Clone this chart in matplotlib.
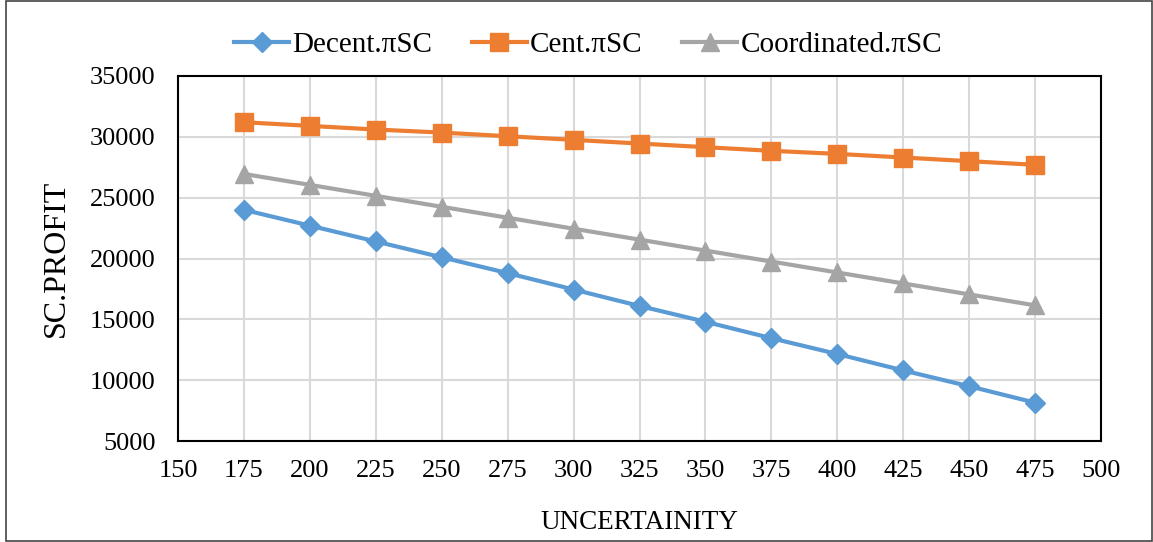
import numpy as np
import matplotlib.pyplot as plt
from matplotlib.patches import Rectangle

plt.rcParams['font.family'] = ['Liberation Serif', 'DejaVu Serif']

# Data
uncertainty = [175, 200, 225, 250, 275, 300, 325, 350, 375, 400, 425, 450, 475]
decent = [24000, 22700, 21400, 20100, 18800, 17450, 16100, 14800, 13450, 12150, 10800, 9500, 8150]
cent = [31200, 30900, 30600, 30350, 30050, 29750, 29450, 29150, 28850, 28600, 28300, 28000, 27700]
coord = [26950, 26050, 25150, 24250, 23350, 22450, 21550, 20650, 19750, 18850, 17950, 17050, 16150]

fig = plt.figure(figsize=(11.53, 5.42), dpi=100)
ax = fig.add_axes([178/1153, 1 - 441/542, (1101-178)/1153, (441-76)/542])

ax.plot(uncertainty, decent, color='#5b9bd5', lw=3, marker='D', ms=10.5, label='Decent.πSC')
ax.plot(uncertainty, cent, color='#ed7d31', lw=3, marker='s', ms=12.5, label='Cent.πSC')
ax.plot(uncertainty, coord, color='#a5a5a5', lw=3, marker='^', ms=12.5, label='Coordinated.πSC')

ax.set_xlim(150, 500)
ax.set_ylim(5000, 35000)
ax.set_xticks(np.arange(150, 501, 25))
ax.set_yticks(np.arange(5000, 35001, 5000))
ax.grid(True, color='#d9d9d9', lw=1.5)
ax.set_axisbelow(True)
ax.tick_params(length=0, labelsize=19)
ax.tick_params(axis='x', pad=14)
ax.tick_params(axis='y', pad=16)
for s in ax.spines.values():
    s.set_linewidth(1.5)

ax.set_xlabel('UNCERTAINITY', fontsize=19.5, labelpad=20)
ax.set_ylabel('SC.PROFIT', fontsize=23, labelpad=14)

ax.legend(loc='center', bbox_to_anchor=(588/1153, 1 - 45/542), bbox_transform=fig.transFigure,
          ncol=3, frameon=False, fontsize=21, handlelength=1.9, columnspacing=1.35,
          handletextpad=0.1, borderpad=0)

fig.add_artist(Rectangle((6/1153, 1/542), 1146/1153, 540/542, transform=fig.transFigure,
                         fill=False, edgecolor='#444444', lw=1.2))

fig.savefig('out.png', dpi=100)
